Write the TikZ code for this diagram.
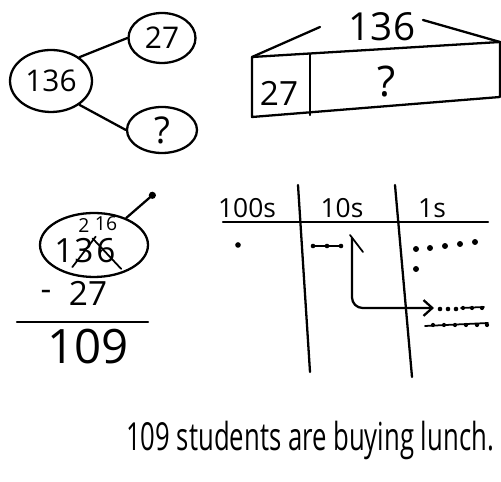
\documentclass[tikz,border=0pt]{standalone}
\usepackage{fontspec}
\setmainfont{Open Sans}
\usetikzlibrary{shapes.geometric, arrows.meta, positioning}

\begin{document}
\begin{tikzpicture}[
  x=0.02cm, y=-0.02cm,
  pen/.style={line width=1.3pt, line cap=round, line join=round},
  bond/.style={ellipse, draw, line width=1.3pt, inner sep=0pt, font=\fontsize{17}{19}\selectfont},
  digit/.style={inner sep=0pt, font=\fontsize{19}{21}\selectfont},
  regroup/.style={inner sep=0pt, font=\fontsize{11}{12}\selectfont},
  header/.style={inner sep=0pt, font=\fontsize{15}{17}\selectfont},
  arrow/.style={pen, -{Straight Barb[length=5pt, width=9pt]}}
]
\useasboundingbox (0,0) rectangle (501,482);

% number bond
\node[bond, minimum width=1.64cm, minimum height=1.24cm] (whole) at (51,81) {136};
\node[bond, minimum width=1.34cm, minimum height=1.0cm] (partA) at (162,38) {27};
\node[bond, minimum width=1.4cm, minimum height=0.92cm, font=\fontsize{21}{23}\selectfont] (partB) at (162,130) {?};
\draw[pen] (whole.40) -- (partA.west);
\draw[pen] (whole.-40) -- (partB.west);

% tape diagram
\coordinate (tl) at (252,57);
\coordinate (tr) at (500,42);
\coordinate (br) at (500,97);
\coordinate (bl) at (252,117);
\coordinate (mt) at (310,54);
\coordinate (mb) at (310,115);
\draw[pen] (tl) -- (tr) -- (br) -- (bl) -- cycle;
\draw[pen] (mt) -- (mb);
\node[digit] (known) at (279,93) {27};
\node[digit, font=\fontsize{24}{26}\selectfont] (unknown) at (387,82) {?};
\node[digit, font=\fontsize{22}{24}\selectfont] (total) at (382,27) {136};
\coordinate (lb) at (320,27);
\coordinate (rb) at (423,20);
\draw[pen] (tl) -- (lb);
\draw[pen] (rb) -- (tr);

% subtraction with regrouping
\node[ellipse, draw, pen, minimum width=2.16cm, minimum height=1.28cm] (ring) at (94,245) {};
\coordinate (pin) at (155,193);
\draw[pen, -{Circle[length=4pt]}] (ring.40) -- (pin);
\node[digit] (d1) at (64,251) {1};
\node[digit] (d3) at (84,251) {3};
\node[digit] (d6) at (106,251) {6};
\node[regroup, above=3pt of d3] (r2) {2};
\node[regroup, above=4pt of d6] (r16) {16};
\draw[pen, line width=1pt] ([shift={(-1pt,-2pt)}]d3.south west) -- ([shift={(1pt,1pt)}]d3.north east);
\draw[pen, line width=1pt] ([xshift=-2pt]d6.north west) -- ([shift={(3pt,-3pt)}]d6.south east);
\node[digit] (minus) at (46,295) {-};
\node[digit] (sub) at (88,293) {27};
\draw[pen] (17,322) -- (148,322);
\node[digit, font=\fontsize{27}{29}\selectfont] (diff) at (88,347) {109};

% place value chart
\draw[pen] (223,222) -- (488,222);
\draw[pen] (298,185) -- (310,372);
\draw[pen] (395,185) -- (412,377);
\node[header] (hundreds) at (247,208) {100s};
\node[header] (tens) at (342,208) {10s};
\node[header] (ones) at (432,208) {1s};
\fill (238,245) circle[radius=1.6pt];
\draw[pen, line width=1pt] (312,246) -- (342,246);
\foreach \x in {313,327,341} \fill (\x,246) circle[radius=1.3pt];
\draw[pen, line width=1pt] (350,235) -- (363,252);
\coordinate (brk) at (352,238);
\coordinate (tip) at (434,308);
\draw[arrow, rounded corners=6pt] (brk) |- (tip);
\foreach \x/\y in {416/249, 430/248, 445/246, 460/244, 475/242, 416/269}
  \fill (\x,\y) circle[radius=1.7pt];
\foreach \x in {440,448,456} \fill (\x,309) circle[radius=1.3pt];
\draw[pen, line width=1pt] (461,308) -- (484,307);
\foreach \x in {463,472,482} \fill (\x,308) circle[radius=1.2pt];
\draw[pen, line width=1pt] (425,326) -- (488,323);
\foreach \x in {433,444,455,466,477,487} \fill (\x,325) circle[radius=1.2pt];

% answer sentence
\node[font=\fontsize{22}{24}\selectfont] (answer) at (310,440) {\scalebox{0.665}[1]{109 students are buying lunch.}};
\end{tikzpicture}
\end{document}
